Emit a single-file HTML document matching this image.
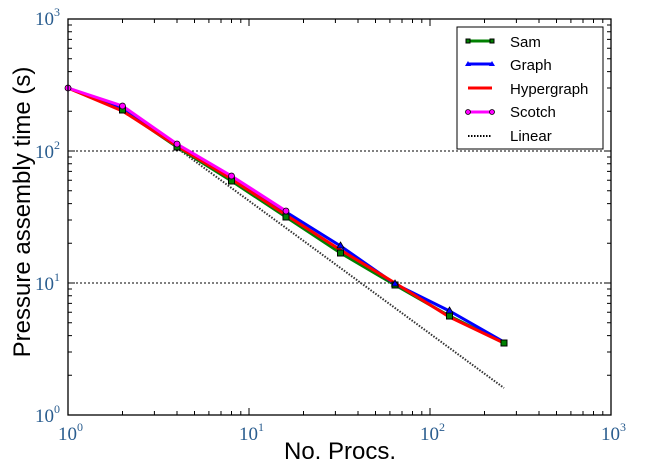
<!DOCTYPE html>
<html><head><meta charset="utf-8"><style>
html,body{margin:0;padding:0;background:#fff;}
svg{display:block;}
.t{font-family:"Liberation Serif",serif;font-size:19px;fill:#2a5d8f;}
.s{font-family:"Liberation Serif",serif;font-size:12px;fill:#2a5d8f;}
.l{font-family:"Liberation Sans",sans-serif;font-size:15px;fill:#000;}
</style></head><body>
<svg width="647" height="466" xmlns="http://www.w3.org/2000/svg">
<rect width="647" height="466" fill="#fff"/>
<line x1="68" y1="151" x2="611" y2="151" stroke="#000" stroke-dasharray="2,2" stroke-width="1"/>
<line x1="68" y1="283" x2="611" y2="283" stroke="#000" stroke-dasharray="2,2" stroke-width="1"/>
<g stroke="#000" stroke-width="1">
<path d="M122.5,415v-4M154.4,415v-4M177,415v-4M194.5,415v-4M208.9,415v-4M221,415v-4M231.5,415v-4M240.8,415v-4M249,415v-7
M303.5,415v-4M335.4,415v-4M358,415v-4M375.5,415v-4M389.9,415v-4M402,415v-4M412.5,415v-4M421.8,415v-4M430,415v-7
M484.5,415v-4M516.4,415v-4M539,415v-4M556.5,415v-4M570.9,415v-4M583,415v-4M593.5,415v-4M602.8,415v-4
M122.5,19v4M154.4,19v4M177,19v4M194.5,19v4M208.9,19v4M221,19v4M231.5,19v4M240.8,19v4M249,19v7
M303.5,19v4M335.4,19v4M358,19v4M375.5,19v4M389.9,19v4M402,19v4M412.5,19v4M421.8,19v4M430,19v7
M484.5,19v4M516.4,19v4M539,19v4M556.5,19v4M570.9,19v4M583,19v4M593.5,19v4M602.8,19v4"/>
<path d="M68,375.3h4M68,352h4M68,335.6h4M68,322.8h4M68,312.3h4M68,303.4h4M68,295.8h4M68,289h4M68,283h7
M68,243.3h4M68,220h4M68,203.6h4M68,190.8h4M68,180.3h4M68,171.4h4M68,163.8h4M68,157h4M68,151h7
M68,111.3h4M68,88h4M68,71.6h4M68,58.8h4M68,48.3h4M68,39.4h4M68,31.8h4M68,25h4
M611,375.3h-4M611,352h-4M611,335.6h-4M611,322.8h-4M611,312.3h-4M611,303.4h-4M611,295.8h-4M611,289h-4M611,283h-7
M611,243.3h-4M611,220h-4M611,203.6h-4M611,190.8h-4M611,180.3h-4M611,171.4h-4M611,163.8h-4M611,157h-4M611,151h-7
M611,111.3h-4M611,88h-4M611,71.6h-4M611,58.8h-4M611,48.3h-4M611,39.4h-4M611,31.8h-4M611,25h-4"/>
</g>
<polyline points="177,148 504,388" fill="none" stroke="#333" stroke-width="2" stroke-dasharray="1.5,1.5"/>
<polyline points="68,88 122.5,110 177,147 231.5,181 286,217 340.5,253 395,285 449.5,316 504,343" fill="none" stroke="#008000" stroke-width="3"/>
<polyline points="68,88 122.5,108 177,145 231.5,178 286,212 340.5,246 395,284 449.5,311 504,342" fill="none" stroke="#0000ff" stroke-width="3"/>
<polyline points="68,88 122.5,111 177,146 231.5,179 286,215 340.5,250 395,283 449.5,317 504,343" fill="none" stroke="#ff0000" stroke-width="3"/>
<polyline points="68,88 122.5,106 177,144 231.5,176 286,211" fill="none" stroke="#ff00ff" stroke-width="3"/>
<g fill="#008000" stroke="#000" stroke-width="1">
<rect x="119.5" y="107" width="6" height="6"/><rect x="174" y="144" width="6" height="6"/><rect x="228.5" y="178" width="6" height="6"/><rect x="283" y="214" width="6" height="6"/><rect x="337.5" y="250" width="6" height="6"/><rect x="392" y="282" width="6" height="6"/><rect x="446.5" y="313" width="6" height="6"/><rect x="501" y="340" width="6" height="6"/>
</g>
<g fill="#0000ff" stroke="#000" stroke-width="0.8">
<path d="M340.5,242l3.5,6h-7zM449.5,307l3.5,6h-7zM395,280l3.5,6h-7z"/>
</g>
<g fill="#ff00ff" stroke="#000" stroke-width="0.8">
<circle cx="68" cy="88" r="3"/><circle cx="122.5" cy="106" r="3"/><circle cx="177" cy="144" r="3"/><circle cx="231.5" cy="176" r="3"/><circle cx="286" cy="211" r="3"/>
</g>
<rect x="68" y="19" width="543" height="396" fill="none" stroke="#000" stroke-width="1.3"/>
<text class="t" x="35" y="25">10</text><text class="s" x="54" y="16">3</text>
<text class="t" x="35" y="158">10</text><text class="s" x="54" y="149">2</text>
<text class="t" x="35" y="290">10</text><text class="s" x="54" y="281">1</text>
<text class="t" x="35" y="422">10</text><text class="s" x="54" y="413">0</text>
<text class="t" x="58" y="440">10</text><text class="s" x="77" y="431">0</text>
<text class="t" x="239" y="440">10</text><text class="s" x="258" y="431">1</text>
<text class="t" x="420" y="440">10</text><text class="s" x="439" y="431">2</text>
<text class="t" x="601" y="440">10</text><text class="s" x="620" y="431">3</text>
<text x="340" y="459" text-anchor="middle" font-family="Liberation Sans,sans-serif" font-size="24">No. Procs.</text>
<text transform="translate(30,212) rotate(-90)" text-anchor="middle" font-family="Liberation Sans,sans-serif" font-size="24">Pressure assembly time (s)</text>
<rect x="457" y="27" width="146" height="122" fill="#fff" stroke="#000" stroke-width="1"/>
<line x1="468" y1="41" x2="492" y2="41" stroke="#008000" stroke-width="3"/>
<rect x="466" y="39" width="4" height="4" fill="#008000" stroke="#000"/><rect x="490" y="39" width="4" height="4" fill="#008000" stroke="#000"/>
<text class="l" x="510" y="47">Sam</text>
<line x1="468" y1="64" x2="492" y2="64" stroke="#0000ff" stroke-width="3"/>
<path d="M468,61l3,5h-6zM492,61l3,5h-6z" fill="#0000ff"/>
<text class="l" x="510" y="70">Graph</text>
<line x1="468" y1="88" x2="492" y2="88" stroke="#ff0000" stroke-width="3"/>
<text class="l" x="510" y="94">Hypergraph</text>
<line x1="468" y1="112" x2="492" y2="112" stroke="#ff00ff" stroke-width="3"/>
<circle cx="468" cy="112" r="2.5" fill="#ff00ff" stroke="#000" stroke-width="0.8"/><circle cx="492" cy="112" r="2.5" fill="#ff00ff" stroke="#000" stroke-width="0.8"/>
<text class="l" x="510" y="117">Scotch</text>
<line x1="468" y1="136" x2="492" y2="136" stroke="#000" stroke-width="2" stroke-dasharray="1.5,1.5"/>
<text class="l" x="510" y="141">Linear</text>
</svg>
</body></html>
